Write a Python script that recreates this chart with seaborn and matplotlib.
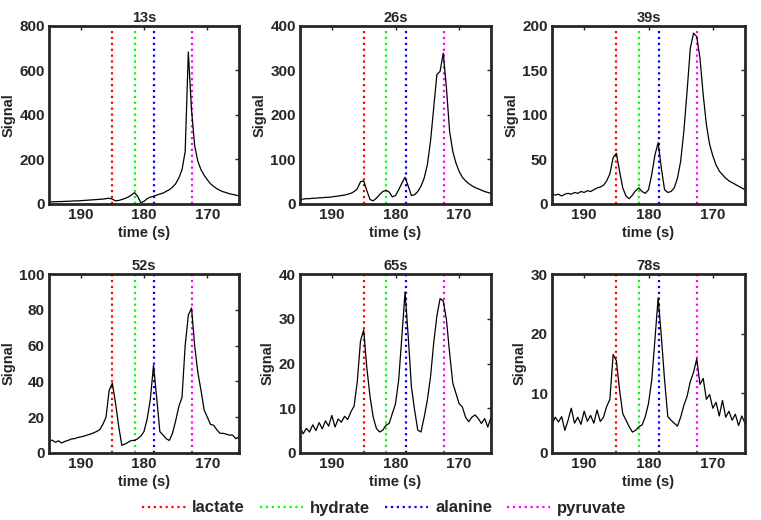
import numpy as np
import matplotlib
matplotlib.use("Agg")
import matplotlib.pyplot as plt
import seaborn as sns

# chemical shift axis (ppm, labelled "time (s)" in the original)
ppm = [195.0, 194.5, 194.0, 193.5, 193.0, 192.5, 192.0, 191.5, 191.0, 190.5,
       190.0, 189.5, 189.0, 188.5, 188.0, 187.5, 187.0, 186.5, 186.0, 185.5,
       185.0, 184.5, 184.0, 183.5, 183.0, 182.5, 182.0, 181.5, 181.0, 180.5,
       180.0, 179.5, 179.0, 178.5, 178.0, 177.5, 177.0, 176.5, 176.0, 175.5,
       175.0, 174.5, 174.0, 173.5, 173.0, 172.5, 172.0, 171.5, 171.0, 170.5,
       170.0, 169.5, 169.0, 168.5, 168.0, 167.5, 167.0, 166.5, 166.0, 165.5,
       165.0]

sig_13s = [9, 10, 10, 11, 11, 12, 12, 13, 14, 14,
           15, 16, 17, 18, 19, 20, 21, 22, 24, 26,
           22, 14, 16, 20, 25, 31, 40, 51, 34, 6,
           12, 24, 31, 35, 40, 45, 49, 57, 64, 76,
           91, 117, 154, 235, 683, 425, 262, 192, 154, 129,
           109, 91, 79, 69, 61, 55, 51, 46, 43, 40,
           36]

sig_26s = [11, 11, 12, 12, 13, 13, 14, 14, 15, 15,
           16, 17, 18, 19, 20, 22, 24, 28, 34, 50,
           52, 30, 10, 7, 13, 21, 28, 31, 27, 16,
           19, 32, 47, 60, 40, 19, 21, 28, 40, 58,
           88, 141, 216, 291, 298, 339, 261, 163, 118, 92,
           73, 60, 52, 46, 41, 37, 34, 31, 28, 26,
           24]

sig_39s = [11, 10, 11, 9, 11, 12, 11, 13, 12, 14,
           13, 15, 14, 16, 18, 19, 21, 26, 34, 52,
           57, 37, 18, 9, 6, 10, 15, 18, 14, 12,
           16, 33, 55, 69, 40, 16, 13, 14, 18, 29,
           48, 82, 127, 175, 192, 188, 164, 123, 89, 67,
           54, 44, 37, 33, 29, 26, 24, 22, 20, 18,
           16]

sig_52s = [6.5, 7.2, 6.0, 6.8, 5.6, 6.5, 7.0, 7.8, 8.0, 8.6,
           9.0, 9.4, 10.0, 10.5, 11.2, 12.0, 13.0, 16.0, 20.0, 35.0,
           39.0, 28.0, 15.0, 4.3, 5.0, 6.0, 7.0, 7.0, 8.0, 9.4,
           12.0, 19.0, 30.0, 49.0, 31.0, 12.0, 10.0, 8.0, 7.0, 11.0,
           18.0, 26.0, 31.0, 60.0, 77.0, 81.0, 60.0, 45.0, 35.0, 24.0,
           20.0, 16.0, 15.5, 13.0, 11.0, 11.0, 10.5, 10.0, 10.0, 8.0,
           9.0]

sig_65s = [5.8, 4.3, 5.5, 4.7, 6.3, 5.0, 6.8, 5.4, 7.2, 6.0,
           8.4, 5.8, 7.6, 6.9, 8.2, 7.5, 9.2, 10.5, 16.0, 25.0,
           27.5, 19.0, 12.6, 8.0, 5.5, 4.7, 5.1, 6.2, 6.6, 8.8,
           11.0, 16.3, 26.0, 36.0, 26.0, 14.8, 9.6, 5.1, 4.7, 8.0,
           11.8, 17.0, 24.6, 30.6, 34.5, 34.0, 29.8, 22.3, 15.6, 13.3,
           11.0, 10.3, 8.0, 7.0, 8.0, 8.5, 7.7, 6.6, 7.7, 5.8,
           8.0]

sig_78s = [4.8, 6.0, 5.2, 6.1, 3.8, 5.5, 7.5, 5.0, 6.0, 4.8,
           7.0, 5.3, 6.3, 5.0, 7.2, 5.3, 6.0, 7.8, 9.0, 16.5,
           15.5, 10.6, 6.6, 5.5, 4.4, 3.5, 3.8, 4.4, 4.7, 6.1,
           8.3, 12.2, 19.0, 26.0, 19.5, 12.2, 6.1, 5.5, 5.0, 4.5,
           6.0, 8.0, 9.5, 12.0, 13.5, 15.8, 11.5, 12.5, 9.0, 9.8,
           7.5, 8.5, 6.2, 8.8, 6.0, 7.0, 5.5, 6.5, 4.6, 6.2,
           5.0]

titles = ["13s", "26s", "39s", "52s", "65s", "78s"]
signals = [sig_13s, sig_26s, sig_39s, sig_52s, sig_65s, sig_78s]
y_max = [800, 400, 200, 100, 40, 30]
y_step = [200, 100, 50, 20, 10, 10]

metabolites = ["lactate", "hydrate", "alanine", "pyruvate"]
metab_ppm = [185.0, 181.5, 178.4, 172.4]
metab_colors = ["#ff0000", "#00ff00", "#0000ff", "#ff00ff"]

sns.set_style("white")
plt.rcParams["font.family"] = ["Liberation Sans", "DejaVu Sans"]
plt.rcParams["font.weight"] = "bold"
plt.rcParams["axes.labelweight"] = "bold"
plt.rcParams["axes.titleweight"] = "bold"

fig = plt.figure(figsize=(7.61, 5.2), dpi=100)

# axes boxes in pixels (left, top, right, bottom), figure is 761x520
boxes = [(49, 26, 239, 204), (300, 26, 491, 204), (552, 26, 745, 204),
         (49, 274, 239, 453), (300, 274, 491, 453), (552, 274, 745, 453)]

axes = []
for i, (l, t, r, b) in enumerate(boxes):
    ax = fig.add_axes([l / 761, 1 - b / 520, (r - l) / 761, (b - t) / 520])
    axes.append(ax)

    for name, pos, col in zip(metabolites, metab_ppm, metab_colors):
        ax.axvline(pos, color=col, linestyle=":", linewidth=1.6, label=name)

    sns.lineplot(x=ppm, y=signals[i], ax=ax, color="black", linewidth=0.9,
                 legend=False)
    if ax.get_legend() is not None:
        ax.get_legend().remove()

    ax.set_xlim(195, 165)
    ax.set_ylim(0, y_max[i])
    ax.set_xticks([190, 180, 170])
    ax.set_yticks(np.arange(0, y_max[i] + 1, y_step[i]))
    ax.tick_params(direction="in", top=True, right=True, length=3, width=1,
                   labelsize=11, pad=3)
    for lab in ax.get_xticklabels() + ax.get_yticklabels():
        lab.set_fontweight("bold")
    for sp in ax.spines.values():
        sp.set_linewidth(2)
        sp.set_color("#262626")
    ax.set_title(titles[i], fontsize=10.5, pad=3)
    ax.set_xlabel("time (s)", fontsize=10.5, labelpad=3)
    ax.set_ylabel("Signal", fontsize=10.5, labelpad=3)

handles, labels = axes[0].get_legend_handles_labels()
fig.legend(handles[:4], labels[:4], loc="center", bbox_to_anchor=(0.505, 1 - 508 / 520),
           ncol=4, frameon=False, fontsize=12, handlelength=2.6,
           handletextpad=0.4, columnspacing=0.9)

fig.savefig("out.png", dpi=100)
